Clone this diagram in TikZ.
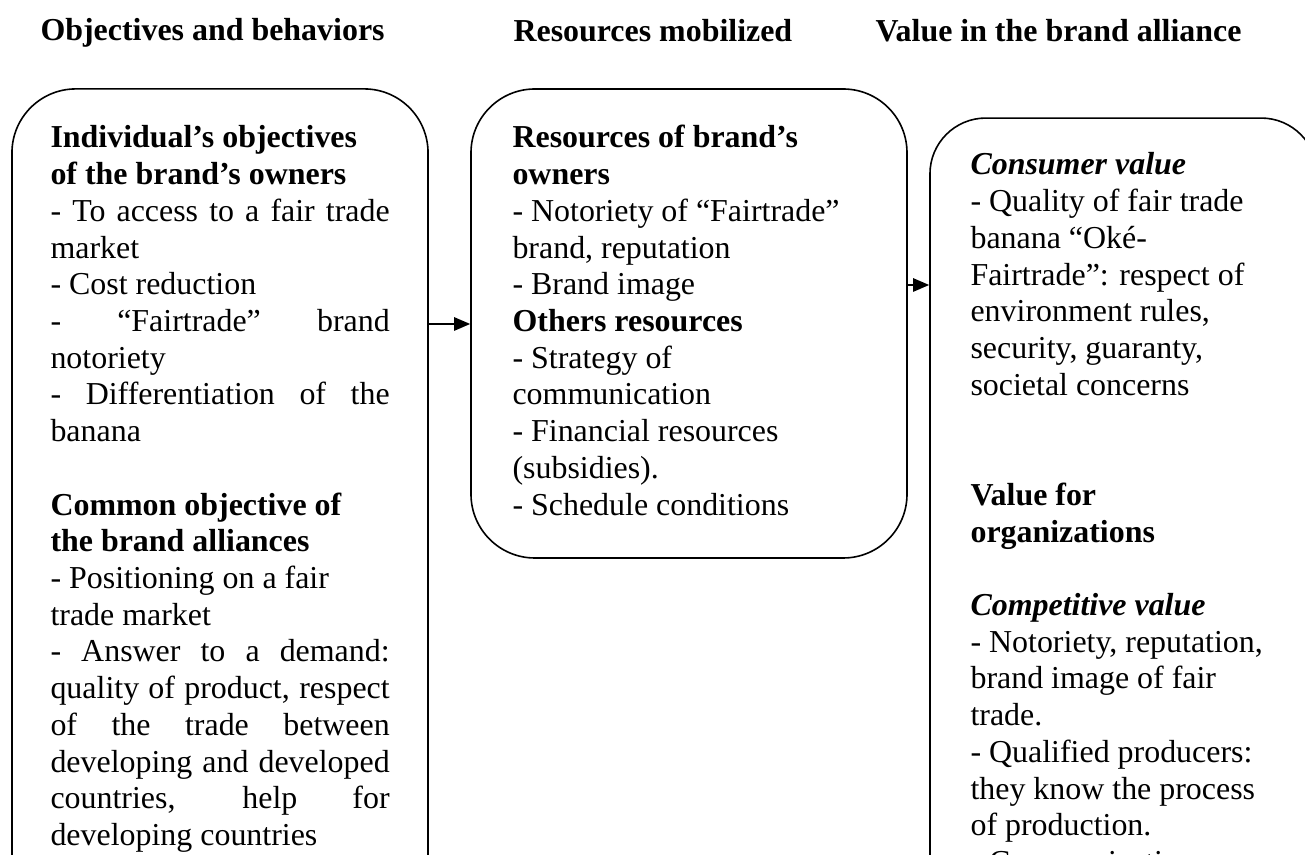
\documentclass[tikz,border=0pt]{standalone}
\usepackage{fontspec}
\setmainfont{Liberation Serif}
\usetikzlibrary{arrows.meta}

\newcommand{\colblock}[2]{\vtop{\hsize=#1\relax #2}}
\newcommand{\spreadline}[1]{\hbox to\hsize{#1}}
\newcommand{\oneline}[1]{\hbox{#1}}
\newcommand{\emptyline}{\hbox{}}

\begin{document}
\begin{tikzpicture} [
				x=0.3759pt, y=-0.3759pt,
				box/.style={draw, line width=0.6pt, rounded corners=24pt, inner sep=0pt},
				body/.style={anchor=base west, inner sep=0pt, font=\fontsize{12pt}{13.8pt}\selectfont},
				head/.style={body, font=\fontsize{12pt}{13.8pt}\selectfont\bfseries},
				arr/.style={-{Triangle[length=6pt,width=5pt]}, line width=0.6pt}
			]
			\useasboundingbox (0,0) rectangle (1305,855);
			\clip (0,0) rectangle (1305,855);

			\node[head] (objhead) at (40,41) {Objectives and behaviors};
			\node[head] (reshead) at (513,42) {Resources mobilized};
			\node[head] (valhead) at (875,42) {Value in the brand alliance};

			\node[box, minimum width=156.4pt, minimum height=342.5pt] (objbox) at (220,544.5) {};
			\node[box, minimum width=163.9pt, minimum height=176.3pt] (resbox) at (689,323.5) {};
			\node[box, rounded corners=21pt, minimum width=145.5pt, minimum height=331.5pt] (valbox) at (1123.5,559) {};

			\node[body] (objtext) at (50,148) {\colblock{127.5pt}{
				\oneline{\textbf{Individual’s objectives}}
				\oneline{\textbf{of the brand’s owners}}
				\spreadline{- To access to a fair trade}
				\oneline{market}
				\oneline{- Cost reduction}
				\spreadline{- “Fairtrade” brand}
				\oneline{notoriety}
				\spreadline{- Differentiation of the}
				\oneline{banana}
				\emptyline
				\oneline{\textbf{Common objective of}}
				\oneline{\textbf{the brand alliances}}
				\oneline{- Positioning on a fair}
				\oneline{trade market}
				\spreadline{- Answer to a demand:}
				\spreadline{quality of product, respect}
				\spreadline{of the trade between}
				\spreadline{developing and developed}
				\spreadline{countries, help for}
				\oneline{developing countries}}};

			\node[body] (restext) at (512,148) {\colblock{130pt}{
				\oneline{\textbf{Resources of brand’s}}
				\oneline{\textbf{owners}}
				\oneline{- Notoriety of “Fairtrade”}
				\oneline{brand, reputation}
				\oneline{- Brand image}
				\oneline{\textbf{Others resources}}
				\oneline{- Strategy of}
				\oneline{communication}
				\oneline{- Financial resources}
				\oneline{(subsidies).}
				\oneline{- Schedule conditions}}};

			\node[body] (valtext) at (970,175) {\colblock{120pt}{
				\oneline{\textbf{\textit{Consumer value}}}
				\oneline{- Quality of fair trade}
				\oneline{banana “Oké-}
				\oneline{Fairtrade”: respect of}
				\oneline{environment rules,}
				\oneline{security, guaranty,}
				\oneline{societal concerns}
				\emptyline
				\emptyline
				\oneline{\textbf{Value for}}
				\oneline{\textbf{organizations}}
				\emptyline
				\oneline{\textbf{\textit{Competitive value}}}
				\oneline{- Notoriety, reputation,}
				\oneline{brand image of fair}
				\oneline{trade.}
				\oneline{- Qualified producers:}
				\oneline{they know the process}
				\oneline{of production.}
				\oneline{- Communication}}};

			\coordinate (objlink) at (0,324);
			\coordinate (reslink) at (0,285);
			\draw[arr] (objbox.east |- objlink) -- (resbox.west |- objlink);
			\draw[arr] (resbox.east |- reslink) -- (valbox.west |- reslink);
		\end{tikzpicture}
\end{document}
